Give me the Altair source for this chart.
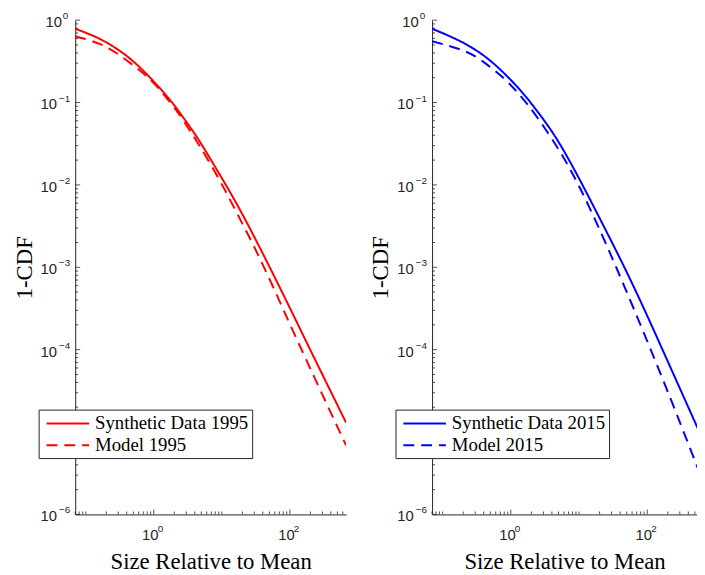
import math
import altair as alt
import pandas as pd

# ---------------- data ----------------
# 1995 panel
x_syn_1995 = [0.07, 0.14, 0.272, 0.531, 1.03, 1.81, 3.02, 4.79, 8.75, 21.3, 72.3, 176, 670]
y_syn_1995 = [0.787, 0.625, 0.461, 0.302, 0.175, 0.1028, 0.0581, 0.0331, 0.01455, 0.00401,
              0.000553, 0.000123, 0.0000130]
x_mod_1995 = [0.07, 0.156, 0.304, 0.592, 1.033, 1.807, 2.81, 7.41, 18.03, 29.8, 58.1, 140.9, 670]
y_mod_1995 = [0.637, 0.519, 0.383, 0.253, 0.167, 0.0962, 0.0581, 0.01585, 0.00401, 0.00178,
              0.000553, 0.000110, 0.0000069]
# 2015 panel
x_syn_2015 = [0.07, 0.135, 0.263, 0.513, 1.0, 1.746, 3.04, 4.75, 9.14, 24.9, 67.6, 206, 531, 670]
y_syn_2015 = [0.787, 0.624, 0.468, 0.316, 0.1875, 0.1117, 0.0614, 0.0356, 0.01377, 0.002773,
              0.000518, 0.0000681, 0.00001183, 0.00000769]
x_mod_2015 = [0.07, 0.210, 0.410, 0.716, 1.250, 2.44, 5.25, 10.23, 19.95, 45.9, 164.8, 501, 670]
y_mod_2015 = [0.555, 0.421, 0.305, 0.211, 0.133, 0.0659, 0.0253, 0.00929, 0.002884, 0.000592,
              0.0000459, 0.00000445, 0.00000242]

series_1995 = ["Synthetic Data 1995", "Model 1995"]
series_2015 = ["Synthetic Data 2015", "Model 2015"]

y_major = [1e-6, 1e-5, 1e-4, 1e-3, 1e-2, 1e-1, 1.0]
y_minor = [k * 10.0 ** e for e in range(-6, 0) for k in range(2, 10)]
x_major = [1.0, 100.0]
x_minor = [k * 10.0 ** e for e in range(-2, 3) for k in range(1, 10)
           if 0.07 <= k * 10.0 ** e <= 700 and k * 10.0 ** e not in (1.0, 100.0)]

AXIS = "#262626"
W_LEFT, W_RIGHT, H = 274, 268, 500
LABEL_FONT = "Liberation Sans"
SERIF = "Liberation Serif"


def exp_text(v):
    e = round(math.log10(v))
    return str(e).replace("-", "\u2212")


def panel(xs1, ys1, xs2, ys2, names, color, xmax, width):
    df = pd.DataFrame({
        "x": xs1 + xs2,
        "y": ys1 + ys2,
        "series": [names[0]] * len(xs1) + [names[1]] * len(xs2),
    })
    xscale = alt.Scale(type="log", domain=[0.07, xmax], nice=False)
    yscale = alt.Scale(type="log", domain=[1e-6, 1], nice=False)
    legend = alt.Legend(
        title=None, orient="none", legendX=-37, legendY=394,
        symbolType="M-0.6,0H3.7", symbolSize=400, symbolStrokeWidth=2,
        labelFont=SERIF, labelFontSize=19, labelColor="black",
        labelOffset=32, fillColor="white", strokeColor=AXIS, padding=3,
        rowPadding=1, zindex=2,
    )
    lines = alt.Chart(df).mark_line(strokeWidth=2, clip=True, interpolate="natural").encode(
        x=alt.X("x:Q", scale=xscale, axis=alt.Axis(
            title="Size Relative to Mean", values=x_major, labelExpr="'10'",
            ticks=False, grid=False, domainColor=AXIS, labelColor=AXIS,
            labelFont=LABEL_FONT, labelFontSize=15, labelPadding=13, labelOffset=-4,
            titleFont=SERIF, titleFontSize=23, titleFontWeight="normal",
            titleColor="black", titlePadding=9, zindex=0)),
        y=alt.Y("y:Q", scale=yscale, axis=alt.Axis(
            title="1-CDF", values=y_major, labelExpr="'10'",
            ticks=False, grid=False, domainColor=AXIS, labelColor=AXIS,
            labelFont=LABEL_FONT, labelFontSize=15, labelOffset=1.5,
            labelPadding={"condition": {"test": "datum.value >= 0.5", "value": 14}, "value": 19},
            titleFont=SERIF, titleFontSize=23, titleFontWeight="normal",
            titleColor="black", titlePadding=4, zindex=0)),
        color=alt.Color("series:N", scale=alt.Scale(domain=names, range=[color, color]), legend=legend),
        strokeDash=alt.StrokeDash("series:N", scale=alt.Scale(domain=names, range=[[1, 0], [11, 7]]),
                                  legend=legend),
    )

    def yticks(vals, length):
        return alt.Chart(pd.DataFrame({"y": vals})).mark_rule(color=AXIS, strokeWidth=0.8).encode(
            y=alt.Y("y:Q", scale=yscale), x=alt.value(0), x2=alt.value(length))

    def xticks(vals, length):
        return alt.Chart(pd.DataFrame({"x": [v for v in vals if v <= xmax]})).mark_rule(
            color=AXIS, strokeWidth=0.8).encode(
            x=alt.X("x:Q", scale=xscale), y=alt.value(H), y2=alt.value(H - length))

    def yexp(vals, xpos):
        d = pd.DataFrame({"y": vals, "t": [exp_text(v) for v in vals]})
        return alt.Chart(d).mark_text(align="left", baseline="middle", font=LABEL_FONT,
                                      fontSize=10, color=AXIS, dy=-4).encode(
            y=alt.Y("y:Q", scale=yscale), x=alt.value(xpos), text="t:N")

    def xexp(vals):
        d = pd.DataFrame({"x": vals, "t": [exp_text(v) for v in vals]})
        return alt.Chart(d).mark_text(align="left", baseline="middle", font=LABEL_FONT,
                                      fontSize=10, color=AXIS, dx=4).encode(
            x=alt.X("x:Q", scale=xscale), y=alt.value(H + 15), text="t:N")

    return alt.layer(
        yticks(y_major, 5), yticks(y_minor, 3), xticks(x_major, 5), xticks(x_minor, 3),
        yexp([v for v in y_major if v < 0.5], -16.5), yexp([1.0], -12.5), xexp(x_major),
        lines,
    ).resolve_scale(color="independent", strokeDash="independent").properties(width=width, height=H)


left = panel(x_syn_1995, y_syn_1995, x_mod_1995, y_mod_1995, series_1995, "#ff0000", 670, W_LEFT)
right = panel(x_syn_2015, y_syn_2015, x_mod_2015, y_mod_2015, series_2015, "#0000ff", 536, W_RIGHT)

chart = alt.hconcat(left, right, spacing=24).resolve_scale(
    color="independent", strokeDash="independent", x="independent", y="independent"
).properties(
    padding={"left": 5, "top": 0, "right": 0, "bottom": 0}
).configure_view(stroke=None)

chart.save("out.html", embed_options={"renderer": "svg", "actions": False})
